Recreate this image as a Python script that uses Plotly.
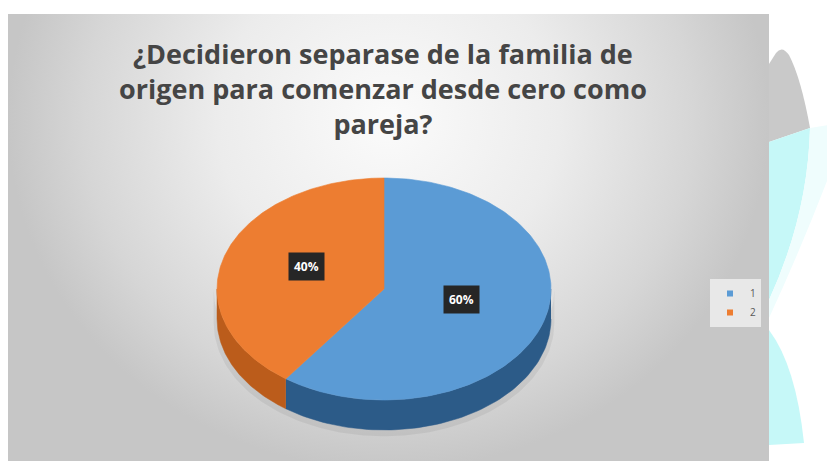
import numpy as np
import plotly.graph_objects as go

# page has an 8px body margin, so the figure covers 8..835 x 8..461
W, H = 827, 453
X0, Y0 = 8, 8

# data
categories = ["1", "2"]
values = [60, 40]
labels = ["60%", "40%"]
top_colors = ["#5b9bd5", "#ed7d31"]
side_colors = ["#2c5b88", "#bb5c1b"]

TITLE = "¿Decidieron separase de la familia de<br>origen para comenzar desde cero como<br>pareja?"

# geometry of the tilted pie (page pixels)
cx, cy = 384, 289
rx, ry = 167, 111
depth = 30


def ell(theta, scale=1.0):
    # theta in degrees, clockwise from 12 o'clock
    t = np.radians(theta)
    return cx + scale * rx * np.sin(t), cy - scale * ry * np.cos(t)


fig = go.Figure()

# panel background, radial gradient lighter near the title
fig.add_trace(go.Scatter(
    x=[8, 769, 769, 8, 8], y=[-230, -230, 470, 470, -230],
    mode='lines', fill='toself', line=dict(width=0),
    fillgradient=dict(type='radial',
                      colorscale=[[0, '#fbfbfb'], [0.45, '#ececec'], [0.8, '#d6d6d6'], [1, '#c6c6c6']]),
    showlegend=False, hoverinfo='skip'
))

# soft shadow under the pie
th = np.linspace(90, 270, 120)
sx, sy = ell(th, 1.02)
fig.add_trace(go.Scatter(x=np.concatenate([sx, sx[::-1]]),
                         y=np.concatenate([sy + depth + 4, sy[::-1]]),
                         mode='lines', fill='toself', fillcolor='rgba(0,0,0,0.06)',
                         line=dict(width=0), showlegend=False, hoverinfo='skip'))

total = sum(values)
starts = np.cumsum([0] + values[:-1]) / total * 360
ends = np.cumsum(values) / total * 360

# sides first (front half only: 90..270 deg)
for a0, a1, col in zip(starts, ends, side_colors):
    lo, hi = max(a0, 90), min(a1, 270)
    if hi <= lo:
        continue
    th = np.linspace(lo, hi, 80)
    xs, ys = ell(th)
    px = np.concatenate([xs, xs[::-1]])
    py = np.concatenate([ys, ys[::-1] + depth])
    fig.add_trace(go.Scatter(x=px, y=py, mode='lines', fill='toself',
                             fillcolor=col, line=dict(width=0.5, color=col),
                             showlegend=False, hoverinfo='skip'))

# top faces
for a0, a1, col, cat in zip(starts, ends, top_colors, categories):
    th = np.linspace(a0, a1, 200)
    xs, ys = ell(th)
    px = np.concatenate([[cx], xs, [cx]])
    py = np.concatenate([[cy], ys, [cy]])
    fig.add_trace(go.Scatter(x=px, y=py, mode='lines', fill='toself',
                             fillcolor=col, line=dict(width=0.6, color=col),
                             showlegend=False, name=cat, hoverinfo='skip'))

# data labels (perspective puts them a bit above the flat centre)
for a0, a1, lab in zip(starts, ends, labels):
    mid = np.radians((a0 + a1) / 2)
    lx = cx + 0.49 * rx * np.sin(mid)
    ly = cy - 6 - 0.48 * ry * np.cos(mid)
    fig.add_annotation(x=lx, y=ly, text=f"<b>{lab}</b>", showarrow=False,
                       bgcolor='#262626', borderpad=5,
                       font=dict(family='Open Sans', size=12, color='white'))

# title
fig.add_annotation(x=383, y=88, xref='x', yref='y', text=f"<b>{TITLE}</b>",
                   showarrow=False, xanchor='center', yanchor='middle',
                   font=dict(family='Open Sans', size=27, color='#454545'))

# legend entries
for cat, col in zip(categories, top_colors):
    fig.add_trace(go.Scatter(x=[None], y=[None], mode='markers', name=cat,
                             marker=dict(symbol='square', size=6, color=col)))

# white page outside the panel
fig.add_shape(type='rect', x0=0, x1=835, y0=0, y1=14, fillcolor='white', line=dict(width=0), layer='above')
fig.add_shape(type='rect', x0=769, x1=840, y0=0, y1=470, fillcolor='white', line=dict(width=0), layer='above')

# decorative slide shapes on the right
fig.add_shape(type='path', path="M 769 64 L 776 53 Q 782 45 789 55 Q 801 78 810 128 L 769 142 Z",
              fillcolor='#c9c9c9', line=dict(width=0), layer='above')
fig.add_shape(type='path', path="M 769 142 L 810 128 Q 808 215 769 300 Z",
              fillcolor='#c6f8f8', line=dict(width=0), layer='above')
fig.add_shape(type='path', path="M 810 128 L 835 124 L 835 160 Q 805 240 769 318 L 769 300 Q 808 215 810 128 Z",
              fillcolor='#effdfd', line=dict(width=0), layer='above')
fig.add_shape(type='path', path="M 769 330 Q 796 366 804 443 L 769 445 Z",
              fillcolor='#c6f8f8', line=dict(width=0), layer='above')

fig.update_layout(
    width=W, height=H,
    margin=dict(l=0, r=0, t=0, b=0),
    paper_bgcolor='white', plot_bgcolor='white',
    xaxis=dict(range=[X0, X0 + W], visible=False, fixedrange=True),
    yaxis=dict(range=[Y0 + H, Y0], visible=False, fixedrange=True),
    legend=dict(x=(710 - X0) / W, y=1 - (279 - Y0) / H, xanchor='left', yanchor='top',
                bgcolor='rgba(240,240,240,0.8)',
                font=dict(family='Open Sans', size=10, color='#595959'),
                itemwidth=30, tracegroupgap=0),
    showlegend=True,
)

fig.write_html("out.html")
